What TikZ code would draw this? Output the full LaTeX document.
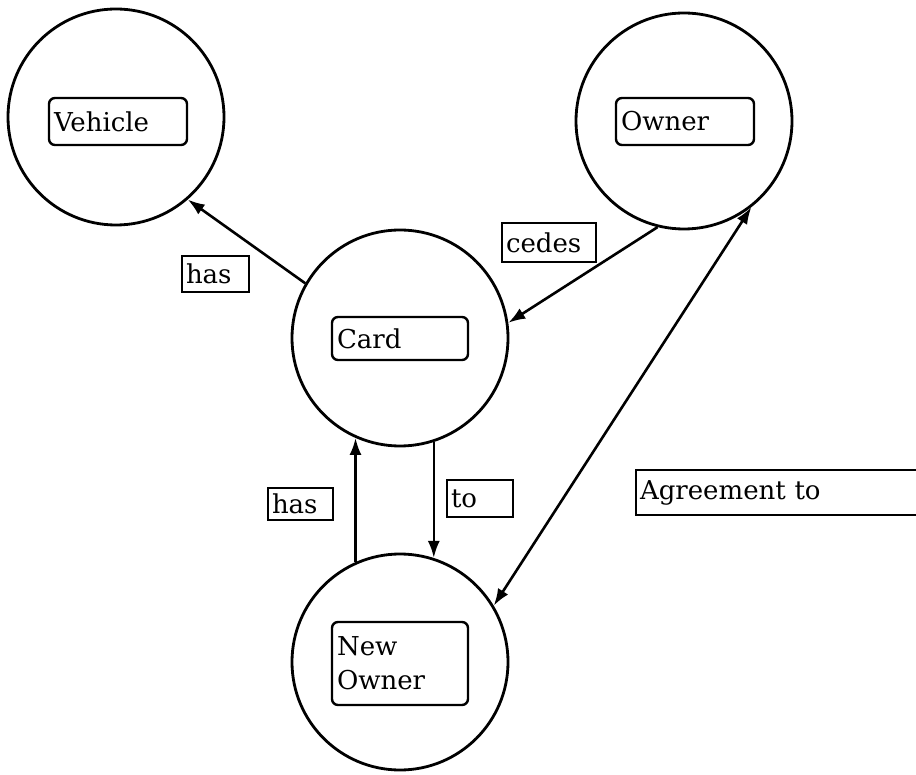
\documentclass[tikz,border=0pt]{standalone}
\usepackage{fontspec}
\setmainfont{DejaVu Serif}
\usetikzlibrary{arrows.meta}
\begin{document}
\begin{tikzpicture}[x=1pt,y=-1pt,
  every node/.style={font=\fontsize{26}{34}\selectfont},
  entity/.style={circle, draw, line width=2.8pt, minimum size=216pt, inner sep=0pt},
  namebox/.style={draw, line width=2.4pt, rounded corners=6pt, inner xsep=5pt, inner ysep=0pt, align=left},
  tag/.style={draw, line width=2.2pt, inner xsep=4pt, inner ysep=0pt, align=left},
  tip/.style={Latex[length=17pt,width=12pt]},
  link/.style={line width=2.6pt, -{Latex[length=17pt,width=12pt]}},
  biglink/.style={line width=2.6pt, {Latex[length=17pt,width=12pt]}-{Latex[length=17pt,width=12pt]}}]
\clip (0,0) rectangle (916,775);

% entities
\node[entity] (veh) at (116,117) {};
\node[entity] (own) at (684,121) {};
\node[entity] (card) at (400,338) {};
\node[entity] (nown) at (400,662) {};

% entity names
\node[namebox, text width=128pt, minimum height=47pt] (vehname) at (118,121.5) {Vehicle};
\node[namebox, text width=128pt, minimum height=47pt] (ownname) at (685,121.5) {Owner};
\node[namebox, text width=126pt, minimum height=43pt] (cardname) at (400,338.5) {Card};
\node[namebox, text width=126pt, minimum height=83pt] (nownname) at (400,663.5) {New\\Owner};

% relation tags
\node[tag, text width=59pt, minimum height=36pt] (has1) at (215.5,274) {has};
\node[tag, text width=86pt, minimum height=39pt] (cedes) at (549,242.5) {cedes};
\node[tag, text width=57pt, minimum height=32pt] (has2) at (300.5,504) {has};
\node[tag, text width=58pt, minimum height=37pt] (to) at (480,498.5) {to};
\node[tag, text width=292pt, minimum height=45pt] (agree) at (786,492.5) {Agreement to};

% connectors
\draw[link] (card.150) -- (veh.-49);
\draw[link] (own.-104) -- (card.8);
\draw[link] (nown.114.7) -- (card.-114.7);
\draw[link] (card.-72.7) -- (nown.72.7);
\draw[biglink] (nown.31.8) -- (own.-52);
\end{tikzpicture}
\end{document}
